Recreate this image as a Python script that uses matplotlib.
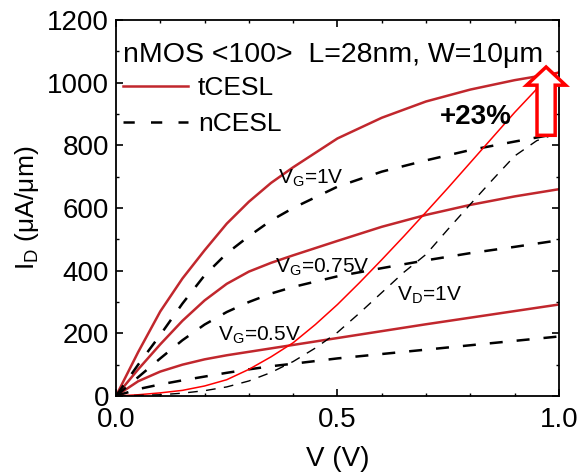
import matplotlib
matplotlib.use('Agg')
import matplotlib.pyplot as plt
import matplotlib.patches as mpatches
from matplotlib.ticker import MultipleLocator, FormatStrFormatter

plt.rcParams['font.family'] = ['Liberation Sans', 'DejaVu Sans']
plt.rcParams['mathtext.default'] = 'regular'

# output curves I_D - V_D  (x = V_D)
v_out = [0.0, 0.05, 0.1, 0.15, 0.2, 0.25, 0.3, 0.35, 0.4, 0.5, 0.6, 0.7, 0.8, 0.9, 1.0]
t_vg10 = [0, 140, 270, 375, 465, 550, 620, 680, 730, 822, 888, 940, 978, 1008, 1032]
t_vg075 = [0, 85, 165, 240, 305, 358, 397, 425, 449, 495, 540, 578, 610, 637, 660]
t_vg05 = [0, 47, 78, 100, 117, 130, 141, 152, 163, 185, 207, 229, 250, 271, 292]
n_vg10 = [0, 100, 195, 295, 385, 455, 510, 560, 600, 668, 716, 752, 785, 812, 838]
n_vg075 = [0, 60, 120, 178, 228, 268, 300, 327, 348, 382, 408, 433, 456, 476, 497]
n_vg05 = [0, 22, 37, 50, 62, 74, 85, 95, 103, 120, 134, 148, 162, 176, 190]

# transfer curves I_D - V_G at V_D = 1V  (x = V_G)
v_tr = [0.0, 0.05, 0.1, 0.15, 0.2, 0.25, 0.3, 0.35, 0.4, 0.45, 0.5, 0.55, 0.6,
        0.65, 0.7, 0.75, 0.8, 0.85, 0.9, 0.95, 1.0]
t_tr = [0, 4, 10, 18, 32, 52, 85, 125, 170, 228, 292, 362, 435, 510, 587, 665,
        745, 825, 905, 980, 1035]
n_tr = [0, 2, 4, 9, 17, 29, 48, 75, 110, 153, 203, 265, 330, 395, 452, 533,
        612, 690, 766, 815, 840]

dark_red = '#c1272d'

fig = plt.figure(figsize=(5.87, 4.75), dpi=100)
ax = fig.add_axes([0.1976, 0.1663, 0.7546, 0.7916])

for y in [t_vg10, t_vg075, t_vg05]:
    ax.plot(v_out, y, color=dark_red, lw=1.8)
for y in [n_vg10, n_vg075, n_vg05]:
    ax.plot(v_out, y, color='black', lw=1.8, dashes=(5.2, 5.6))
ax.plot(v_tr, t_tr, color='red', lw=1.1)
ax.plot(v_tr, n_tr, color='black', lw=1.0, dashes=(7, 6))

# legend
ax.plot([], [], color=dark_red, lw=1.8, label='tCESL')
ax.plot([], [], color='black', lw=1.8, dashes=(4.5, 6.5), label='nCESL')
h, l = ax.get_legend_handles_labels()
ax.legend(h[-2:], l[-2:], loc='upper left', bbox_to_anchor=(0.016, 0.85),
          frameon=False, fontsize=19, handlelength=2.45, handletextpad=0.38,
          labelspacing=0.45, borderaxespad=0, borderpad=0)

ax.text(0.016, 0.888, 'nMOS <100>  L=28nm, W=10μm', transform=ax.transAxes,
        fontsize=20.5, va='baseline', ha='left')

ax.text(0.366, 679, 'V$_G$=1V', fontsize=15)
ax.text(0.36, 395, 'V$_G$=0.75V', fontsize=15)
ax.text(0.231, 178, 'V$_G$=0.5V', fontsize=15)
ax.text(0.635, 305, 'V$_D$=1V', fontsize=15)
ax.text(0.732, 867, '+23%', fontsize=20, fontweight='bold')

arrow = mpatches.FancyArrow(0.971, 832, 0, 1050 - 832, width=0.041,
                            head_width=0.088, head_length=58,
                            length_includes_head=True, facecolor='white',
                            edgecolor='red', lw=2.5, clip_on=False, zorder=5)
ax.add_patch(arrow)

ax.set_xlim(0, 1.0)
ax.set_ylim(0, 1200)
ax.xaxis.set_major_locator(MultipleLocator(0.5))
ax.xaxis.set_minor_locator(MultipleLocator(0.1))
ax.yaxis.set_major_locator(MultipleLocator(200))
ax.yaxis.set_minor_locator(MultipleLocator(100))
ax.xaxis.set_major_formatter(FormatStrFormatter('%.1f'))
ax.tick_params(which='both', direction='in', top=True, right=True, labelsize=20)
ax.tick_params(which='major', length=5, width=1.2, pad=5)
ax.tick_params(axis='x', which='major', pad=8)
ax.tick_params(which='minor', length=2.5, width=1.0)
for s in ax.spines.values():
    s.set_linewidth(1.3)

ax.set_xlabel('V (V)', fontsize=20, labelpad=9)
ax.set_ylabel('I$_D$ (μA/μm)', fontsize=19, labelpad=4)

fig.savefig('out.png', dpi=100)
